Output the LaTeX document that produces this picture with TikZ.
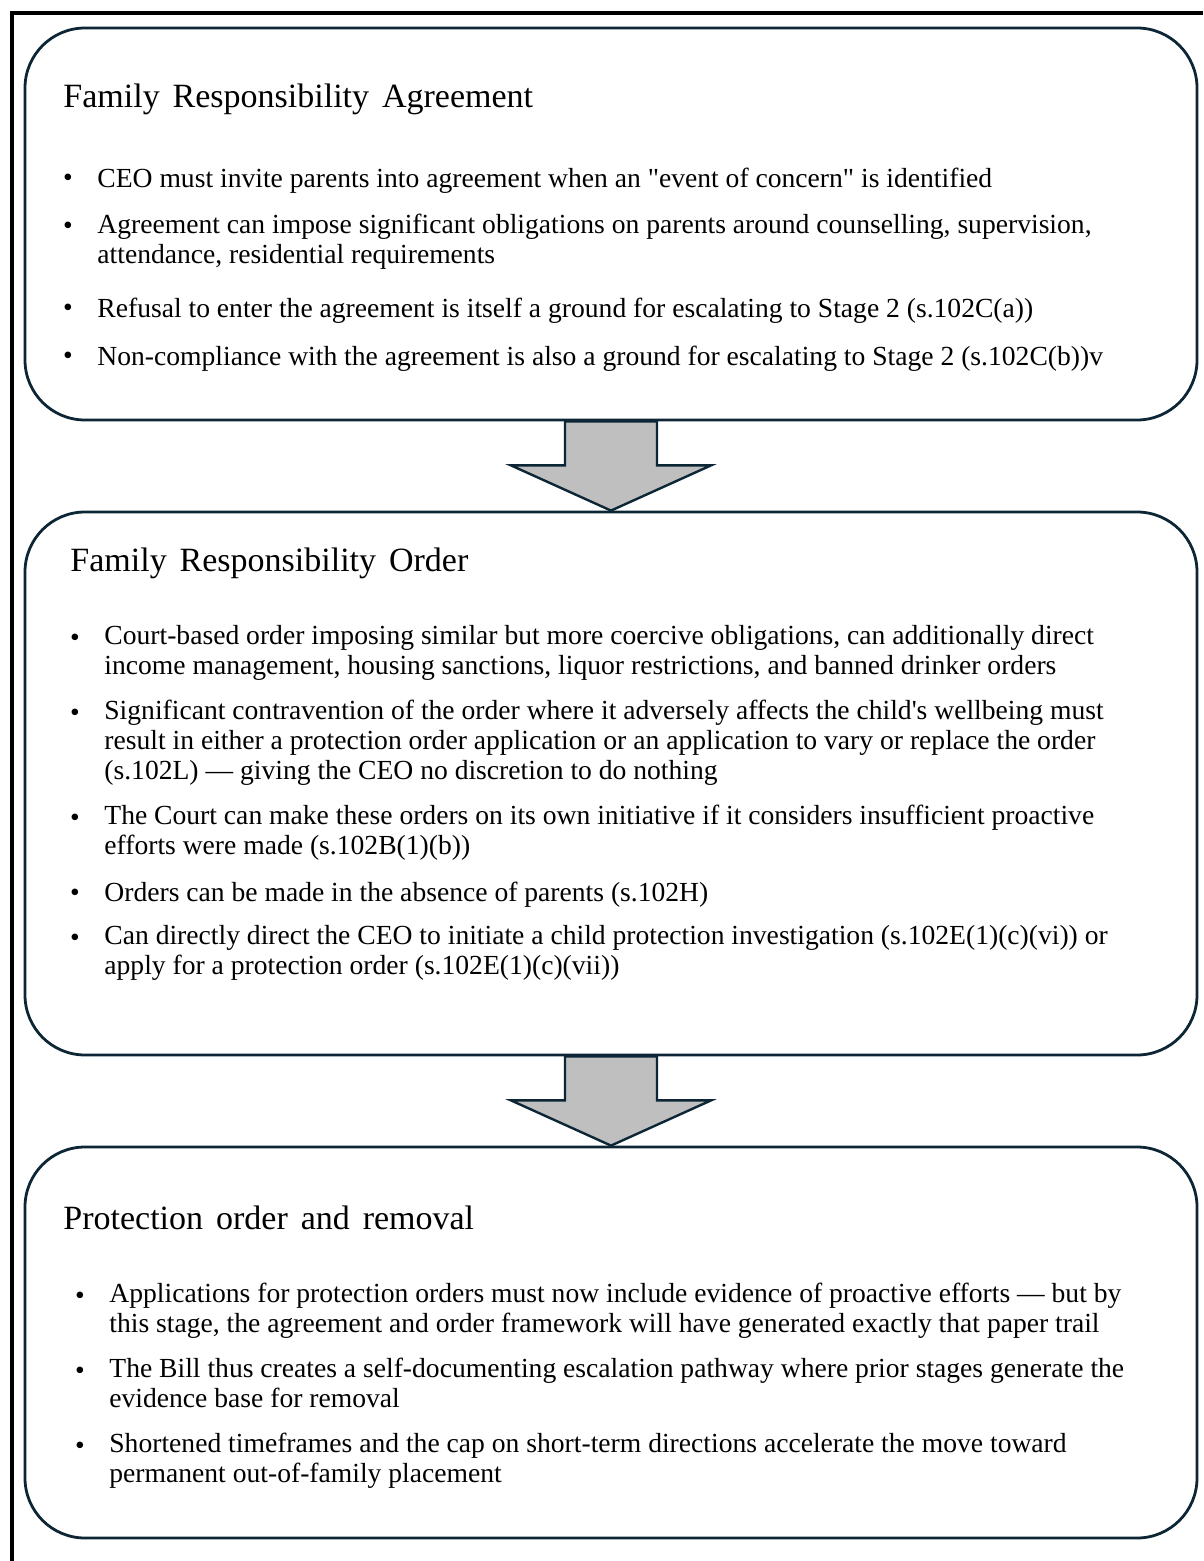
\documentclass[tikz,border=0pt]{standalone}
\usepackage{fontspec}
\setmainfont{Liberation Serif}
\usetikzlibrary{calc}
\definecolor{navy}{HTML}{0D2636}
\definecolor{arrowgray}{HTML}{BFBFBF}
\newcommand{\stagefont}{\fontsize{17}{20}\selectfont\spaceskip=0.38em\relax}
\newcommand{\pointfont}{\fontsize{13.8}{15}\selectfont}
\tikzset{
  stage/.style={draw=navy, line width=1.4pt, rounded corners=30pt, inner sep=0pt},
  stagetitle/.style={anchor=base west, inner sep=0pt, font=\stagefont},
  % first line's baseline sits on the given point
  pointtext/.style={anchor=north west, yshift=9.5pt, inner sep=0pt, align=left,
    font=\pointfont, execute at begin node=\strut},
  pointdot/.style={anchor=base, inner sep=0pt, font=\pointfont},
  downarrow/.style={draw=navy, line width=1.2pt, fill=arrowgray, line join=miter},
}
\begin{document}
\begin{tikzpicture}[x=0.5pt, y=-0.5pt]
		\useasboundingbox (0,0) rectangle (1203,1561);
		% Outer frame (only top and left edges show)
		\draw[line width=2pt] (12,1561) -- (12,13) -- (1203,13);
		
		% --- STAGE 1: AGREEMENT ---
		\node[stage, minimum width=586pt, minimum height=196pt] (fra) at (611,224) {};
		\node[stagetitle] (fratitle) at (63,108) {Family Responsibility Agreement};
		\node[pointdot] (fra1d) at (68,187) {\textbullet};
		\node[pointtext] (fra1) at (97,185) {CEO must invite parents into agreement when an \textquotedbl event of concern\textquotedbl{} is identified};
		\node[pointdot] (fra2d) at (68,235) {\textbullet};
		\node[pointtext] (fra2) at (97,233) {Agreement can impose significant obligations on parents around counselling, supervision,\\attendance, residential requirements};
		\node[pointdot] (fra3d) at (68,317) {\textbullet};
		\node[pointtext] (fra3) at (97,315) {Refusal to enter the agreement is itself a ground for escalating to Stage 2 (s.102C(a))};
		\node[pointdot] (fra4d) at (68,365) {\textbullet};
		\node[pointtext] (fra4) at (97,363) {Non-compliance with the agreement is also a ground for escalating to Stage 2 (s.102C(b))v};
		
		% --- STAGE 2: ORDER ---
		\node[stage, minimum width=586pt, minimum height=271.5pt] (fro) at (611,783.5) {};
		\node[stagetitle] (frotitle) at (70,571) {Family Responsibility Order};
		\node[pointdot] (fro1d) at (75,646) {\textbullet};
		\node[pointtext] (fro1) at (104,644) {Court-based order imposing similar but more coercive obligations, can additionally direct\\income management, housing sanctions, liquor restrictions, and banned drinker orders};
		\node[pointdot] (fro2d) at (75,721) {\textbullet};
		\node[pointtext] (fro2) at (104,719) {Significant contravention of the order where it adversely affects the child\textquotesingle s wellbeing must\\result in either a protection order application or an application to vary or replace the order\\(s.102L) — giving the CEO no discretion to do nothing};
		\node[pointdot] (fro3d) at (75,826) {\textbullet};
		\node[pointtext] (fro3) at (104,824) {The Court can make these orders on its own initiative if it considers insufficient proactive\\efforts were made (s.102B(1)(b))};
		\node[pointdot] (fro4d) at (75,901) {\textbullet};
		\node[pointtext] (fro4) at (104,899) {Orders can be made in the absence of parents (s.102H)};
		\node[pointdot] (fro5d) at (75,946) {\textbullet};
		\node[pointtext] (fro5) at (104,944) {Can directly direct the CEO to initiate a child protection investigation (s.102E(1)(c)(vi)) or\\apply for a protection order (s.102E(1)(c)(vii))};
		
		% --- STAGE 3: PROTECTION ORDER ---
		\node[stage, minimum width=586pt, minimum height=195.5pt] (pro) at (611,1342.5) {};
		\node[stagetitle] (protitle) at (63,1229) {Protection order and removal};
		\node[pointdot] (pro1d) at (80,1304) {\textbullet};
		\node[pointtext] (pro1) at (109,1302) {Applications for protection orders must now include evidence of proactive efforts — but by\\this stage, the agreement and order framework will have generated exactly that paper trail};
		\node[pointdot] (pro2d) at (80,1379) {\textbullet};
		\node[pointtext] (pro2) at (109,1377) {The Bill thus creates a self-documenting escalation pathway where prior stages generate the\\evidence base for removal};
		\node[pointdot] (pro3d) at (80,1454) {\textbullet};
		\node[pointtext] (pro3) at (109,1452) {Shortened timeframes and the cap on short-term directions accelerate the move toward\\permanent out-of-family placement};
		
		% Block arrows between the stages
		\draw[downarrow] ($(fra.south)+(-46,0)$) -- ++(0,44) -- ++(-54,0) -- (fro.north)
			-- ($(fra.south)+(100,44)$) -- ++(-54,0) -- ($(fra.south)+(46,0)$) -- cycle;
		\draw[downarrow] ($(fro.south)+(-46,0)$) -- ++(0,44) -- ++(-54,0) -- (pro.north)
			-- ($(fro.south)+(100,44)$) -- ++(-54,0) -- ($(fro.south)+(46,0)$) -- cycle;
		
	\end{tikzpicture}
\end{document}
